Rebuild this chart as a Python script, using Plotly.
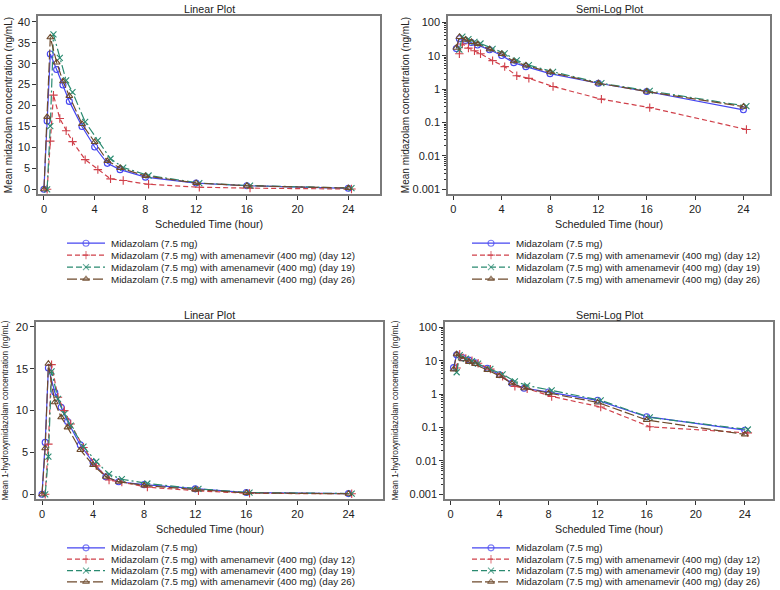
import plotly.graph_objects as go

# Scheduled sampling times (hour)
times = [0, 0.25, 0.5, 1, 1.5, 2, 3, 4, 5, 6, 8, 12, 16, 24]

series_names = [
    "Midazolam (7.5 mg)",
    "Midazolam (7.5 mg) with amenamevir (400 mg) (day 12)",
    "Midazolam (7.5 mg) with amenamevir (400 mg) (day 19)",
    "Midazolam (7.5 mg) with amenamevir (400 mg) (day 26)",
]

# Mean midazolam concentration (ng/mL)
mdz_alone = [0, 16.3, 32.3, 28.6, 24.9, 21.0, 15.0, 10.1, 6.2, 4.7, 2.9, 1.5, 0.85, 0.24]
mdz_day12 = [0, 11.5, 22.5, 16.9, 14.0, 11.4, 7.1, 4.7, 2.5, 2.1, 1.2, 0.5, 0.28, 0.062]
mdz_day19 = [0, 15.1, 37.0, 31.4, 26.0, 23.2, 16.1, 11.7, 7.3, 5.2, 3.3, 1.5, 0.88, 0.31]
mdz_day26 = [0, 17.3, 36.3, 30.3, 25.8, 22.3, 15.6, 11.3, 6.8, 5.1, 3.2, 1.5, 0.85, 0.30]

# Mean 1-hydroxymidazolam concentration (ng/mL)
ohm_alone = [0, 6.2, 15.1, 12.2, 10.4, 8.7, 5.9, 3.8, 2.1, 1.5, 1.15, 0.65, 0.21, 0.083]
ohm_day12 = [0, 6.0, 15.5, 11.6, 10.0, 8.4, 5.6, 3.4, 1.7, 1.45, 0.85, 0.41, 0.105, 0.069]
ohm_day19 = [0, 4.5, 14.7, 11.4, 9.6, 8.2, 5.7, 3.9, 2.4, 1.8, 1.29, 0.65, 0.20, 0.087]
ohm_day26 = [0, 5.5, 15.6, 11.0, 9.2, 8.0, 5.3, 3.5, 2.1, 1.5, 1.07, 0.56, 0.168, 0.062]

x_ticks = [0, 4, 8, 12, 16, 20, 24]
log_ticks = [0.001, 0.01, 0.1, 1, 10, 100]
log_tick_text = ["0.001", "0.01", "0.1", "1", "10", "100"]

# series styles
colors = ["#4646f0", "#d0404a", "#2a8a70", "#6e4a2c"]
dashes = ["solid", "5px,3px", "9px,3px,2px,3px", "10px,3px"]
symbols = ["circle-open", "cross-thin-open", "x-thin-open", "triangle-up-open"]
x_shift = [0, 0.25, 0.25, 0]  # small horizontal offset used in the original figure

FONT = "Liberation Sans, Arial, sans-serif"
W, H = 780, 590


def px_x(p):
    return p / W


def px_y(p):
    return min(1, max(0, 1 - p / H))


fig = go.Figure()

panels = [
    # axis id, data, log?, x dom px, y dom px (top, bottom), y range, x range
    ("", [mdz_alone, mdz_day12, mdz_day19, mdz_day26], False, (38, 380), (15, 194), [-1.2, 41.4], [-0.47, 26.5]),
    ("2", [mdz_alone, mdz_day12, mdz_day19, mdz_day26], True, (448, 770), (15, 194), [-3.15, 2.19], [-0.44, 26.2]),
    ("3", [ohm_alone, ohm_day12, ohm_day19, ohm_day26], False, (36, 383), (322, 500), [-0.6, 20.6], [-0.47, 26.7]),
    ("4", [ohm_alone, ohm_day12, ohm_day19, ohm_day26], True, (445, 773), (322, 500), [-3.15, 2.16], [-0.45, 26.3]),
]

titles = ["Linear Plot", "Semi-Log Plot", "Linear Plot", "Semi-Log Plot"]
ytitles = [
    "Mean midazolam concentration (ng/mL)",
    "Mean midazolam concentration (ng/mL)",
    "Mean 1-hydroxymidazolam concentration (ng/mL)",
    "Mean 1-hydroxymidazolam concentration (ng/mL)",
]
ytitle_x = [8, 405, 6, 396]
ytitle_size = [10, 10, 8.2, 8.2]

annotations = []

for k, (aid, data, is_log, xd, yd, yr, xr) in enumerate(panels):
    xa, ya = "x" + aid, "y" + aid
    for i, vals in enumerate(data):
        xs = [t + x_shift[i] for t in times]
        ys = list(vals)
        if is_log:
            pts = [(a, b) for a, b in zip(xs, ys) if b > 0]
            xs = [p[0] for p in pts]
            ys = [p[1] for p in pts]
        fig.add_trace(go.Scatter(
            x=xs, y=ys, mode="lines+markers", xaxis=xa, yaxis=ya,
            name=series_names[i], showlegend=False,
            line=dict(color=colors[i], width=1.2, dash=dashes[i]),
            marker=dict(symbol=symbols[i], size=6, color=colors[i],
                        line=dict(color=colors[i], width=1.1)),
            cliponaxis=False,
        ))

    axis_common = dict(
        showline=True, mirror=True, linecolor="#7a7a7a", linewidth=1.5,
        ticks="outside", ticklen=4, tickcolor="#333", showgrid=False, zeroline=False,
        tickfont=dict(family=FONT, size=11, color="#222"),
    )
    fig.update_layout(**{
        "xaxis" + aid: dict(
            domain=[px_x(xd[0]), px_x(xd[1])], anchor=ya, range=xr,
            tickvals=x_ticks, **axis_common,
        ),
    })
    if is_log:
        yax = dict(type="log", range=yr, tickvals=log_ticks, ticktext=log_tick_text,
                   minor=dict(ticks="outside", ticklen=2, tickcolor="#333",
                              tickvals=[m * 10 ** e for e in range(-3, 2) for m in range(2, 10)]))
    else:
        yax = dict(range=yr, dtick=5)
    fig.update_layout(**{
        "yaxis" + aid: dict(domain=[px_y(yd[1]), px_y(yd[0])], anchor=xa, **yax, **axis_common),
    })

    cx = (xd[0] + xd[1]) / 2
    annotations.append(dict(text=titles[k], x=px_x(cx), y=px_y(yd[0] - 7), xref="paper", yref="paper",
                            showarrow=False, font=dict(family=FONT, size=10.7, color="#222"),
                            xanchor="center", yanchor="middle"))
    annotations.append(dict(text="Scheduled Time (hour)", x=px_x(cx), y=px_y(yd[1] + 30),
                            xref="paper", yref="paper", showarrow=False,
                            font=dict(family=FONT, size=10.7, color="#222"),
                            xanchor="center", yanchor="middle"))
    annotations.append(dict(text=ytitles[k], x=px_x(ytitle_x[k]), y=px_y((yd[0] + yd[1]) / 2),
                            xref="paper", yref="paper", showarrow=False, textangle=-90,
                            font=dict(family=FONT, size=ytitle_size[k], color="#222"),
                            xanchor="center", yanchor="middle"))

# hand-built legends (one under each panel): axis id, left px, top px, row height px
legend_spots = [
    ("5", 67, 237, 12),
    ("6", 472, 237, 12),
    ("7", 67, 543, 11.4),
    ("8", 472, 543, 11.4),
]
for aid, lx, ly, row_h in legend_spots:
    xa, ya = "x" + aid, "y" + aid
    for i in range(4):
        fig.add_trace(go.Scatter(
            x=[0, 0.5, 1], y=[i + 0.5] * 3, mode="lines+markers", xaxis=xa, yaxis=ya,
            showlegend=False, hoverinfo="skip",
            line=dict(color=colors[i], width=1.2, dash=dashes[i] if i != 2 else "6px,3px"),
            marker=dict(symbol=symbols[i], size=[0, 6, 0], color=colors[i],
                        line=dict(color=colors[i], width=1.1)),
        ))
        annotations.append(dict(text=series_names[i], x=px_x(lx + 42), y=px_y(ly + row_h * (i + 0.5)),
                                xref="paper", yref="paper", showarrow=False, xanchor="left",
                                yanchor="middle", font=dict(family=FONT, size=9.8, color="#222")))
    hidden = dict(visible=False, showgrid=False, zeroline=False, fixedrange=True)
    fig.update_layout(**{
        "xaxis" + aid: dict(domain=[px_x(lx), px_x(lx + 38)], range=[0, 1], anchor=ya, **hidden),
        "yaxis" + aid: dict(domain=[px_y(ly + 4 * row_h), px_y(ly)], range=[4, 0], anchor=xa, **hidden),
    })

fig.update_layout(
    width=W, height=H,
    margin=dict(l=0, r=0, t=0, b=0),
    paper_bgcolor="white", plot_bgcolor="white",
    showlegend=False,
    annotations=annotations,
    font=dict(family=FONT, color="#222"),
)

# the page's default body margin would push the 780x590 figure off the window
fig.write_html("out.html", config={"displayModeBar": False},
               post_script="document.body.style.margin='0';")
